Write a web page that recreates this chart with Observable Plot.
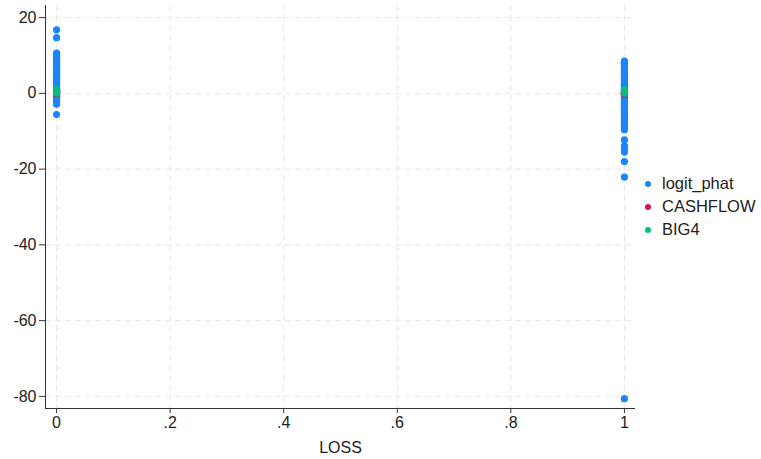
<!DOCTYPE html>
<html>
<head>
<meta charset="utf-8">
<script src="https://cdn.jsdelivr.net/npm/d3@7"></script>
<script src="https://cdn.jsdelivr.net/npm/@observablehq/plot@0.6"></script>
<style>
  html, body { margin: 0; padding: 0; background: #fff; }
  #wrap { position: relative; width: 761px; height: 459px; font-family: "Liberation Sans", Arial, sans-serif; }
  #legend { position: absolute; left: 645px; top: 172px; font-size: 16.5px; color: #222; line-height: 23px; }
  #legend .row { display: flex; align-items: center; white-space: nowrap; }
  #legend .sw { width: 6px; height: 6px; border-radius: 50%; margin-right: 11px; display: inline-block; }
</style>
</head>
<body>
<div id="wrap"><div id="legend"></div></div>
<script>
// ---- data ----
const seriesNames = ["logit_phat", "CASHFLOW", "BIG4"];
const seriesColors = ["#1a85ff", "#d41159", "#00bf7f"];

// logit_phat for LOSS = 0
const logitLoss0 = [16.8, 14.7, 10.6, 10.3, 10.1, 9.8, 9.4, 9.2, 8.9, 8.5, 8.3, 8.0, 7.6, 7.4, 7.1, 6.7, 6.5, 6.2, 5.8, 5.6, 5.3, 4.9, 4.7, 4.4, 4.0, 3.8, 3.5, 3.1, 2.9, 2.6, 2.2, 2.0, 1.7, 1.3, 1.1, 0.8, 0.4, 0.2, -0.1, -0.5, -0.8, -1.1, -1.4, -1.8, -2.1, -2.5, -2.9, -5.6];
// logit_phat for LOSS = 1
const logitLoss1 = [8.5, 8.2, 7.9, 7.5, 7.2, 6.9, 6.5, 6.2, 5.8, 5.5, 5.2, 4.8, 4.5, 4.1, 3.8, 3.5, 3.1, 2.8, 2.4, 2.1, 1.8, 1.4, 1.1, 0.7, 0.4, 0.1, -0.3, -0.6, -1.0, -1.3, -1.6, -2.0, -2.3, -2.7, -3.0, -3.3, -3.7, -4.0, -4.4, -4.7, -5.1, -5.5, -5.9, -6.4, -6.8, -7.3, -7.9, -8.4, -9.0, -9.6, -12.3, -13.9, -14.6, -15.5, -18.0, -22.1, -80.6];
// CASHFLOW (hidden beneath the BIG4 markers)
const cashflowLoss0 = [0.3, 0.1, 0.6, -0.2, 0.4, 0.8];
const cashflowLoss1 = [-0.1, 0.2, 0.5, -0.3, 0.0, 0.7];
// BIG4 (0/1)
const big4Loss0 = [0, 1];
const big4Loss1 = [0, 1];

const xTicks = [0, 0.2, 0.4, 0.6, 0.8, 1];
const xTickLabels = ["0", ".2", ".4", ".6", ".8", "1"];
const yTicks = [20, 0, -20, -40, -60, -80];
const yTickLabels = ["20", "0", "-20", "-40", "-60", "-80"];
const xTitle = "LOSS";

// ---- build table ----
const rows = [];
logitLoss0.forEach(v => rows.push({LOSS: 0, value: v, series: seriesNames[0]}));
logitLoss1.forEach(v => rows.push({LOSS: 1, value: v, series: seriesNames[0]}));
cashflowLoss0.forEach(v => rows.push({LOSS: 0, value: v, series: seriesNames[1]}));
cashflowLoss1.forEach(v => rows.push({LOSS: 1, value: v, series: seriesNames[1]}));
big4Loss0.forEach(v => rows.push({LOSS: 0, value: v, series: seriesNames[2]}));
big4Loss1.forEach(v => rows.push({LOSS: 1, value: v, series: seriesNames[2]}));

const xDomain = [-0.0195, 1.0195];
const yDomain = [-83.2, 23.2];
const axisColor = "#333";

const chart = Plot.plot({
  width: 761,
  height: 459,
  marginLeft: 45,
  marginRight: 126,
  marginTop: 5,
  marginBottom: 51,
  style: { fontFamily: "Liberation Sans, Arial, sans-serif", fontSize: "16px", color: "#222", background: "#fff" },
  x: { domain: xDomain, label: null },
  y: { domain: yDomain, label: null },
  color: { domain: seriesNames, range: seriesColors },
  marks: [
    Plot.gridX(xTicks, { stroke: "#e6e6e6", strokeOpacity: 1, strokeDasharray: "6,4" }),
    Plot.gridY(yTicks, { stroke: "#e6e6e6", strokeOpacity: 1, strokeDasharray: "6,4" }),
    Plot.ruleX([xDomain[0]], { stroke: axisColor }),
    Plot.ruleY([yDomain[0]], { stroke: axisColor }),
    Plot.axisX(xTicks, { tickSize: 5, tickPadding: 3, stroke: axisColor, fill: "#222", fontSize: 16, label: null, tickFormat: (d) => xTickLabels[xTicks.indexOf(d)] }),
    Plot.axisY(yTicks, { tickSize: 6, tickPadding: 3, stroke: axisColor, fill: "#222", fontSize: 16, label: null, tickFormat: (d) => yTickLabels[yTicks.indexOf(d)] }),
    Plot.text([xTitle], { frameAnchor: "bottom", dy: 44, fontSize: 16, fill: "#222", text: d => d }),
    Plot.dot(rows, { x: "LOSS", y: "value", fill: "series", r: 3.6, stroke: "none" })
  ]
});

document.getElementById("wrap").prepend(chart);
chart.style.position = "absolute";
chart.style.left = "0";
chart.style.top = "0";

const legend = document.getElementById("legend");
seriesNames.forEach((name, i) => {
  const row = document.createElement("div");
  row.className = "row";
  const sw = document.createElement("span");
  sw.className = "sw";
  sw.style.background = seriesColors[i];
  row.appendChild(sw);
  row.appendChild(document.createTextNode(name));
  legend.appendChild(row);
});
</script>
</body>
</html>
